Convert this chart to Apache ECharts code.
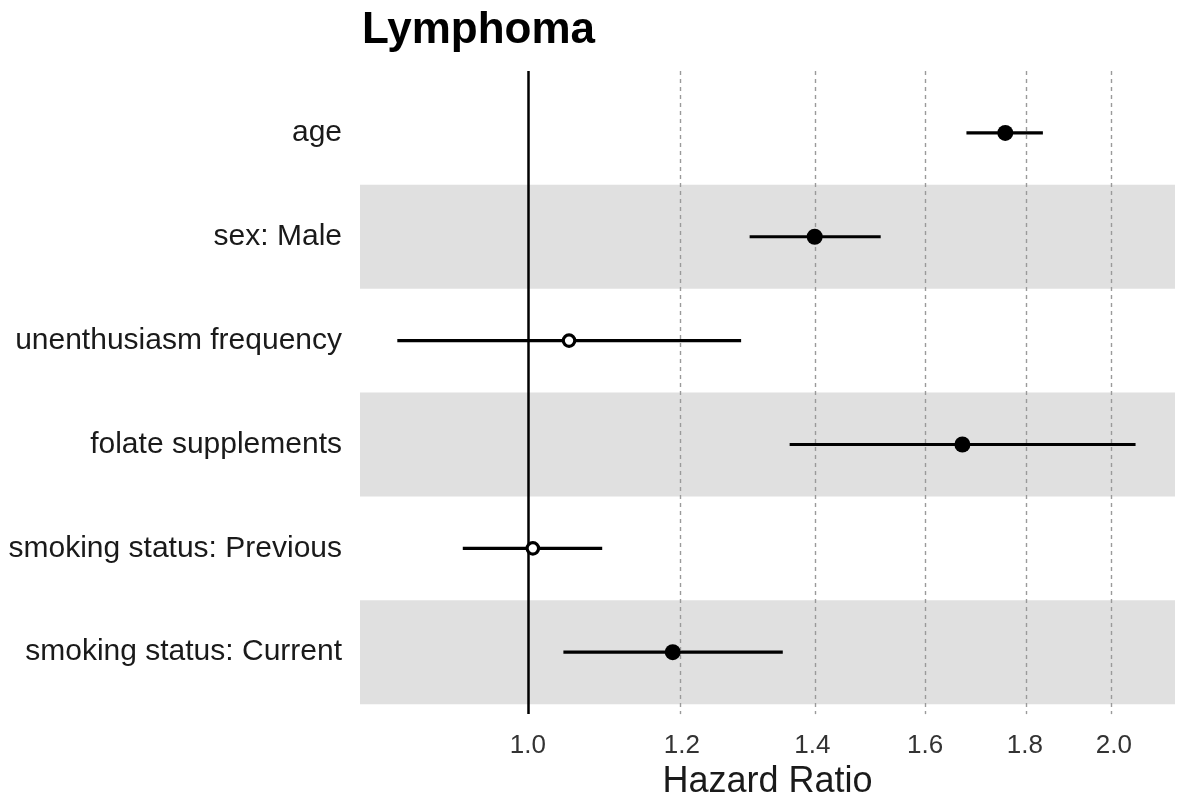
<!DOCTYPE html>
<html>
<head>
<meta charset="utf-8">
<script src="https://cdn.jsdelivr.net/npm/echarts@6/dist/echarts.min.js"></script>
<style>html,body{margin:0;padding:0;background:#fff;}#chart{width:1180px;height:805px;}</style>
</head>
<body>
<div id="chart"></div>
<script>
// Data (hazard ratios)
const categories = ['age', 'sex: Male', 'unenthusiasm frequency', 'folate supplements', 'smoking status: Previous', 'smoking status: Current'];
const hr      = [1.759, 1.404, 1.050, 1.672, 1.006, 1.187];
const ciLow   = [1.680, 1.300, 0.857, 1.363, 0.926, 1.043];
const ciHigh  = [1.839, 1.518, 1.287, 2.052, 1.092, 1.352];
const significant = [true, true, false, true, false, true];
const tickValues = [1.0, 1.2, 1.4, 1.6, 1.8, 2.0];
const xRange = [0.82, 2.15];

const L = Math.log;
const chart = echarts.init(document.getElementById('chart'));
const FONT = 'Liberation Sans, Arial, sans-serif';
const pad = 0.096; // row padding (fraction of a row) above first / below last row

const idx = categories.map((c, i) => i);
const ciData = idx.map(i => [L(ciLow[i]), L(ciHigh[i]), i]);
const filled = [], open = [];
idx.forEach(i => { (significant[i] ? filled : open).push([L(hr[i]), i]); });
const bands = idx.filter(i => i % 2 === 1).map(i => [{ yAxis: i - 0.5 }, { yAxis: i + 0.5 }]);

chart.setOption({
  animation: false,
  backgroundColor: '#fff',
  title: {
    text: 'Lymphoma', left: 357, top: 4,
    textStyle: { fontFamily: FONT, fontSize: 44, fontWeight: 'bold', color: '#000' }
  },
  grid: { left: 360, right: 5, top: 71, bottom: 90, containLabel: false },
  xAxis: {
    type: 'value', min: L(xRange[0]), max: L(xRange[1]),
    name: 'Hazard Ratio', nameLocation: 'middle', nameGap: 49,
    nameTextStyle: { fontFamily: FONT, fontSize: 36, color: '#1a1a1a' },
    axisLine: { show: false },
    axisTick: { show: false },
    axisLabel: { customValues: tickValues.map(L), margin: 19, fontFamily: FONT, fontSize: 26, color: '#333',
      formatter: v => Math.exp(v).toFixed(1) },
    splitLine: { show: false }
  },
  yAxis: {
    type: 'value', inverse: true, min: -0.5 - pad, max: categories.length - 0.5 + pad,
    axisLine: { show: false }, axisTick: { show: false },
    axisLabel: { customValues: idx, margin: 18, fontFamily: FONT, fontSize: 30, color: '#1a1a1a',
      formatter: v => categories[Math.round(v)] },
    splitLine: { show: false }
  },
  series: [
    {
      type: 'line', data: [], silent: true, z: 1,
      markArea: { silent: true, itemStyle: { color: '#e0e0e0' }, data: bands }
    },
    {
      type: 'line', data: [], silent: true, z: 2,
      markLine: {
        symbol: 'none', silent: true, label: { show: false },
        lineStyle: { color: '#9a9a9a', width: 1.4, type: [4, 4] },
        data: tickValues.filter(t => t !== 1.0).map(t => ({ xAxis: L(t) }))
      }
    },
    {
      type: 'line', data: [], silent: true, z: 2,
      markLine: {
        symbol: 'none', silent: true, label: { show: false },
        lineStyle: { color: '#000', width: 2.5, type: 'solid' },
        data: [{ xAxis: L(1.0) }]
      }
    },
    {
      type: 'custom', data: ciData, silent: true, z: 3,
      renderItem: (params, api) => {
        const a = api.coord([api.value(0), api.value(2)]);
        const b = api.coord([api.value(1), api.value(2)]);
        return { type: 'line', shape: { x1: a[0], y1: a[1], x2: b[0], y2: b[1] },
          style: { stroke: '#000', lineWidth: 3.2 } };
      },
      encode: { x: [0, 1], y: 2 }
    },
    {
      type: 'scatter', data: filled, symbol: 'circle', symbolSize: 16, z: 5,
      itemStyle: { color: '#000', borderWidth: 0, opacity: 1 }
    },
    {
      type: 'scatter', data: open, symbol: 'circle', symbolSize: 11.5, z: 5,
      itemStyle: { color: '#fff', borderColor: '#000', borderWidth: 3.2, opacity: 1 }
    }
  ]
});
</script>
</body>
</html>
